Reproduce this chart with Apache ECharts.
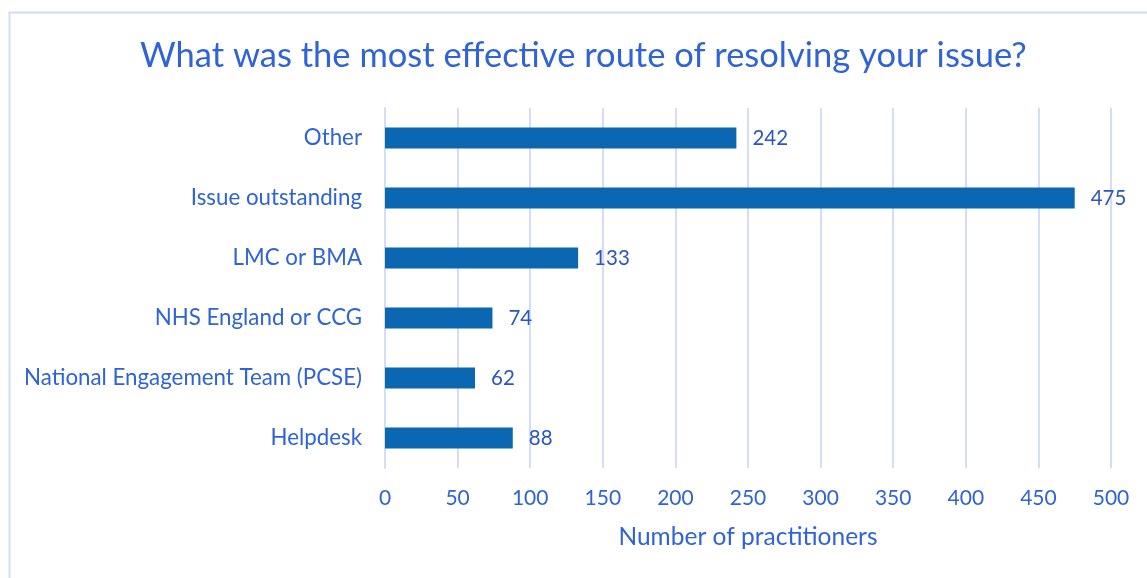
<!DOCTYPE html>
<html>
<head>
<meta charset="utf-8">
<script src="https://cdn.jsdelivr.net/npm/echarts@6/dist/echarts.min.js"></script>
<style>html,body{margin:0;padding:0;background:#fff}#c{width:1147px;height:578px}</style>
</head>
<body>
<div id="c"></div>
<script>
const titleText = 'What was the most effective route of resolving your issue?';
const categories = ['Helpdesk', 'National Engagement Team (PCSE)', 'NHS England or CCG', 'LMC or BMA', 'Issue outstanding', 'Other'];
const values = [88, 62, 74, 133, 475, 242];
const axisName = 'Number of practitioners';

const textColor = '#2F63D6';
const labelColor = '#2B55C0';
const barColor = '#0B67B2';
const gridColor = '#D3DEF6';
const font = 'Lato, "Open Sans", sans-serif';

const chart = echarts.init(document.getElementById('c'));
chart.setOption({
  animation: false,
  backgroundColor: '#fff',
  graphic: [{
    type: 'rect', left: 7, top: 10, silent: true,
    shape: { width: 1200, height: 640 },
    style: { fill: 'none', stroke: '#D0DDF6', lineWidth: 2 }
  }],
  title: {
    text: titleText, left: 135, top: 33,
    textStyle: { color: textColor, fontSize: 34.5, fontWeight: 'normal', fontFamily: font }
  },
  grid: { left: 385, right: 36, top: 108, bottom: 110 },
  xAxis: {
    type: 'value', min: 0, max: 500, interval: 50,
    name: axisName, nameLocation: 'middle', nameGap: 57,
    nameTextStyle: { color: textColor, fontSize: 24.5, fontFamily: font },
    axisLine: { show: false }, axisTick: { show: false },
    axisLabel: { color: textColor, fontSize: 21, margin: 20, fontFamily: font },
    splitLine: { show: true, lineStyle: { color: gridColor, width: 2 } }
  },
  yAxis: {
    type: 'category', data: categories,
    axisLine: { show: true, lineStyle: { color: gridColor, width: 2 } },
    axisTick: { show: false },
    axisLabel: { color: textColor, fontSize: 22.3, margin: 23, fontFamily: font }
  },
  series: [{
    type: 'bar', data: values, barWidth: 21,
    itemStyle: { color: barColor },
    label: { show: true, position: 'right', distance: 16, color: labelColor, fontSize: 20.5, fontFamily: font }
  }]
});
</script>
</body>
</html>
